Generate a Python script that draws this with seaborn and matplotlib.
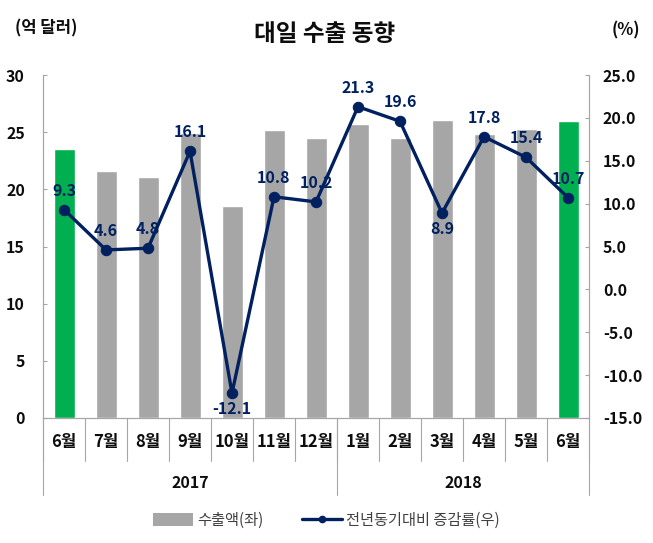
import numpy as np
import pandas as pd
import matplotlib
matplotlib.use("Agg")
import matplotlib.pyplot as plt
import seaborn as sns
from matplotlib.patches import Patch
from matplotlib.lines import Line2D

sns.set_theme(style="white")
plt.rcParams['font.family'] = ['Noto Sans CJK KR', 'DejaVu Sans']

months = ["6월", "7월", "8월", "9월", "10월", "11월", "12월", "1월", "2월", "3월", "4월", "5월", "6월"]
years = ["2017", "2018"]
year_counts = [7, 6]
exports = [23.5, 21.6, 21.1, 24.9, 18.5, 25.2, 24.5, 25.7, 24.5, 26.1, 24.8, 25.3, 26.0]
growth = [9.3, 4.6, 4.8, 16.1, -12.1, 10.8, 10.2, 21.3, 19.6, 8.9, 17.8, 15.4, 10.7]
label_below = [False, False, False, False, True, False, False, False, False, True, False, False, False]

GRAY = "#A6A6A6"
GREEN = "#00B050"
NAVY = "#002060"
TXT = "#0D0D0D"

n = len(months)
df = pd.DataFrame({"pos": [str(i) for i in range(n)], "exports": exports, "growth": growth})
colors = [GREEN if i in (0, n - 1) else GRAY for i in range(n)]

fig = plt.figure(figsize=(6.53, 5.43), dpi=100)
ax = fig.add_axes([43 / 653, 1 - 418 / 543, (589 - 43) / 653, (418 - 75) / 543])

sns.barplot(data=df, x="pos", y="exports", hue="pos", palette=colors, legend=False,
            width=0.5, ax=ax, saturation=1)
ax.set_xlim(-0.5, n - 0.5)
ax.set_ylim(0, 30)
ax.set_yticks(np.arange(0, 31, 5))
ax.set_ylabel("")
ax.set_xlabel("")

ax2 = ax.twinx()
sns.lineplot(x=np.arange(n), y=growth, ax=ax2, color=NAVY, linewidth=2.4, marker="o",
             markersize=7.5, markeredgecolor=NAVY, markerfacecolor=NAVY)
ax2.set_ylim(-15, 25)
ax2.set_yticks(np.arange(-15, 26, 5))
ax2.set_yticklabels([f"{v:.1f}" for v in np.arange(-15, 26, 5)])
ax2.set_xlim(-0.5, n - 0.5)

for i, v in enumerate(growth):
    if label_below[i]:
        ax2.annotate(f"{v:.1f}", (i, v), xytext=(0, -6), textcoords="offset points",
                     ha="center", va="top", fontsize=11.5, fontweight="bold", color=NAVY)
    else:
        ax2.annotate(f"{v:.1f}", (i, v), xytext=(0, 8), textcoords="offset points",
                     ha="center", va="bottom", fontsize=11.5, fontweight="bold", color=NAVY)

for a in (ax, ax2):
    for s in a.spines.values():
        s.set_color("#A6A6A6")
        s.set_linewidth(0.8)
    a.spines["top"].set_visible(False)
    a.tick_params(axis="y", length=3, direction="in", width=0.8, color="#A6A6A6",
                  labelsize=11.5, labelcolor=TXT)

for lab in ax.get_yticklabels() + ax2.get_yticklabels():
    lab.set_fontweight("bold")
ax.tick_params(axis="y", pad=13)
ax2.tick_params(axis="y", pad=10)

# category axis
ax.set_xticks(range(n))
ax.set_xticklabels(months, fontsize=12, fontweight="bold", color=TXT)
ax.tick_params(axis="x", length=0, pad=11)

trans = ax.get_xaxis_transform()
for b in np.arange(-0.5, n, 1.0):
    ax.plot([b, b], [0, -0.125], transform=trans, color="#A6A6A6", lw=0.8, clip_on=False)
edges = [-0.5]
for c in year_counts:
    edges.append(edges[-1] + c)
for b in edges:
    ax.plot([b, b], [0, -0.225], transform=trans, color="#A6A6A6", lw=0.8, clip_on=False)
for k, yr in enumerate(years):
    mid = (edges[k] + edges[k + 1]) / 2
    ax.text(mid, -0.19, yr, transform=trans, ha="center", va="center",
            fontsize=11.5, fontweight="bold", color=TXT)

# titles
fig.text(325 / 653, 1 - 34 / 543, "대일 수출 동향", ha="center", va="center",
         fontsize=17, fontweight="bold", color=TXT)
fig.text(15 / 653, 1 - 28 / 543, "(억 달러)", ha="left", va="center",
         fontsize=12, fontweight="bold", color=TXT)
fig.text(640 / 653, 1 - 30 / 543, "(%)", ha="right", va="center",
         fontsize=12, fontweight="bold", color=TXT)

handles = [Patch(facecolor=GRAY, edgecolor="none", label="수출액(좌)"),
           Line2D([0], [0], color=NAVY, lw=2.4, marker="o", markersize=4.5, label="전년동기대비 증감률(우)")]
fig.legend(handles=handles, loc="center", bbox_to_anchor=(0.5, 1 - 520 / 543), ncol=2,
           frameon=False, fontsize=11, labelcolor="#404040", handlelength=2.6,
           handleheight=0.9, columnspacing=2.5, handletextpad=0.3)

fig.savefig("out.png", dpi=100)
